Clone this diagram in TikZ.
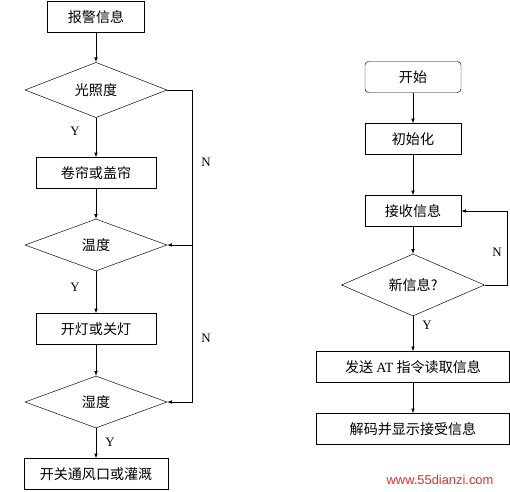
\documentclass[tikz,border=0pt]{standalone}
\usepackage{fontspec}
\setmainfont{Liberation Serif}
\newfontfamily\cjk{Noto Sans CJK SC}
\usetikzlibrary{shapes.geometric}
\definecolor{wmred}{HTML}{E0302A}

\begin{document}
\begin{tikzpicture}[
  box/.style={draw, minimum height=0.93cm, align=center,
              font=\cjk\fontsize{12}{14}\selectfont, inner sep=2pt},
  dia/.style={draw, diamond, minimum width=4.26cm, minimum height=1.56cm,
              inner sep=0pt, font=\cjk\fontsize{12}{14}\selectfont},
  arr/.style={->, >=latex},
  lbl/.style={font=\fontsize{11}{13}\selectfont},
]
\useasboundingbox (0,0) rectangle (15.3,-14.76);

% ---- Left flow: alarm handling ----
\node[box, minimum width=2.91cm] (alarm) at (2.88, -0.51) {报警信息};
\node[dia] (light) at (2.88, -2.70) {光照度};
\node[box, minimum width=3.6cm] (curtain) at (2.88, -5.19) {卷帘或盖帘};
\node[dia] (temp) at (2.88, -7.35) {温度};
\node[box, minimum width=3.6cm] (lamp) at (2.88, -9.87) {开灯或关灯};
\node[dia] (humid) at (2.88, -12.06) {湿度};
\node[box, minimum width=4.32cm] (vent) at (2.88, -14.22) {开关通风口或灌溉};

\draw[arr] (alarm) -- (light);
\draw[arr] (light) -- (curtain);
\draw[arr] (curtain) -- (temp);
\draw[arr] (temp) -- (lamp);
\draw[arr] (lamp) -- (humid);
\draw[arr] (humid) -- (vent);

\coordinate (nbus) at (5.76, -2.70);
\draw[arr] (light.east) -- (nbus) |- (humid.east);
\draw[arr] (nbus |- temp.east) -- (temp.east);

\node[lbl] (y1) at (2.25, -3.93) {Y};
\node[lbl] (y2) at (2.25, -8.61) {Y};
\node[lbl] (y3) at (3.30, -13.26) {Y};
\node[lbl] (n1) at (6.18, -4.86) {N};
\node[lbl] (n2) at (6.18, -10.14) {N};

% ---- Right flow: receiving messages ----
\node[box, rounded corners=3pt, minimum width=2.88cm] (start) at (12.39, -2.31) {开始};
\node[box, minimum width=2.88cm] (init) at (12.39, -4.17) {初始化};
\node[box, minimum width=2.88cm] (recv) at (12.39, -6.33) {接收信息};
\node[dia, minimum width=4.29cm] (newmsg) at (12.39, -8.55) {新信息?};
\node[box, minimum width=5.79cm] (send) at (12.39, -11.01)
  {{\cjk 发送} {\rmfamily AT} {\cjk 指令读取信息}};
\node[box, minimum width=5.79cm] (decode) at (12.39, -12.87) {解码并显示接受信息};

\draw[arr] (start) -- (init);
\draw[arr] (init) -- (recv);
\draw[arr] (recv) -- (newmsg);
\draw[arr] (newmsg) -- (send);
\draw[arr] (send) -- (decode);

\coordinate (loop) at (15.22, -8.55);
\draw[arr] (newmsg.east) -- (loop) |- (recv.east);

\node[lbl] (n3) at (14.91, -7.56) {N};
\node[lbl] (y4) at (12.81, -9.75) {Y};

% ---- Watermark ----
\node[font=\fontspec{Liberation Sans}\fontsize{11}{13}\selectfont, text=wmred]
  (wm) at (13.2, -14.40) {www.55dianzi.com};

\end{tikzpicture}
\end{document}
